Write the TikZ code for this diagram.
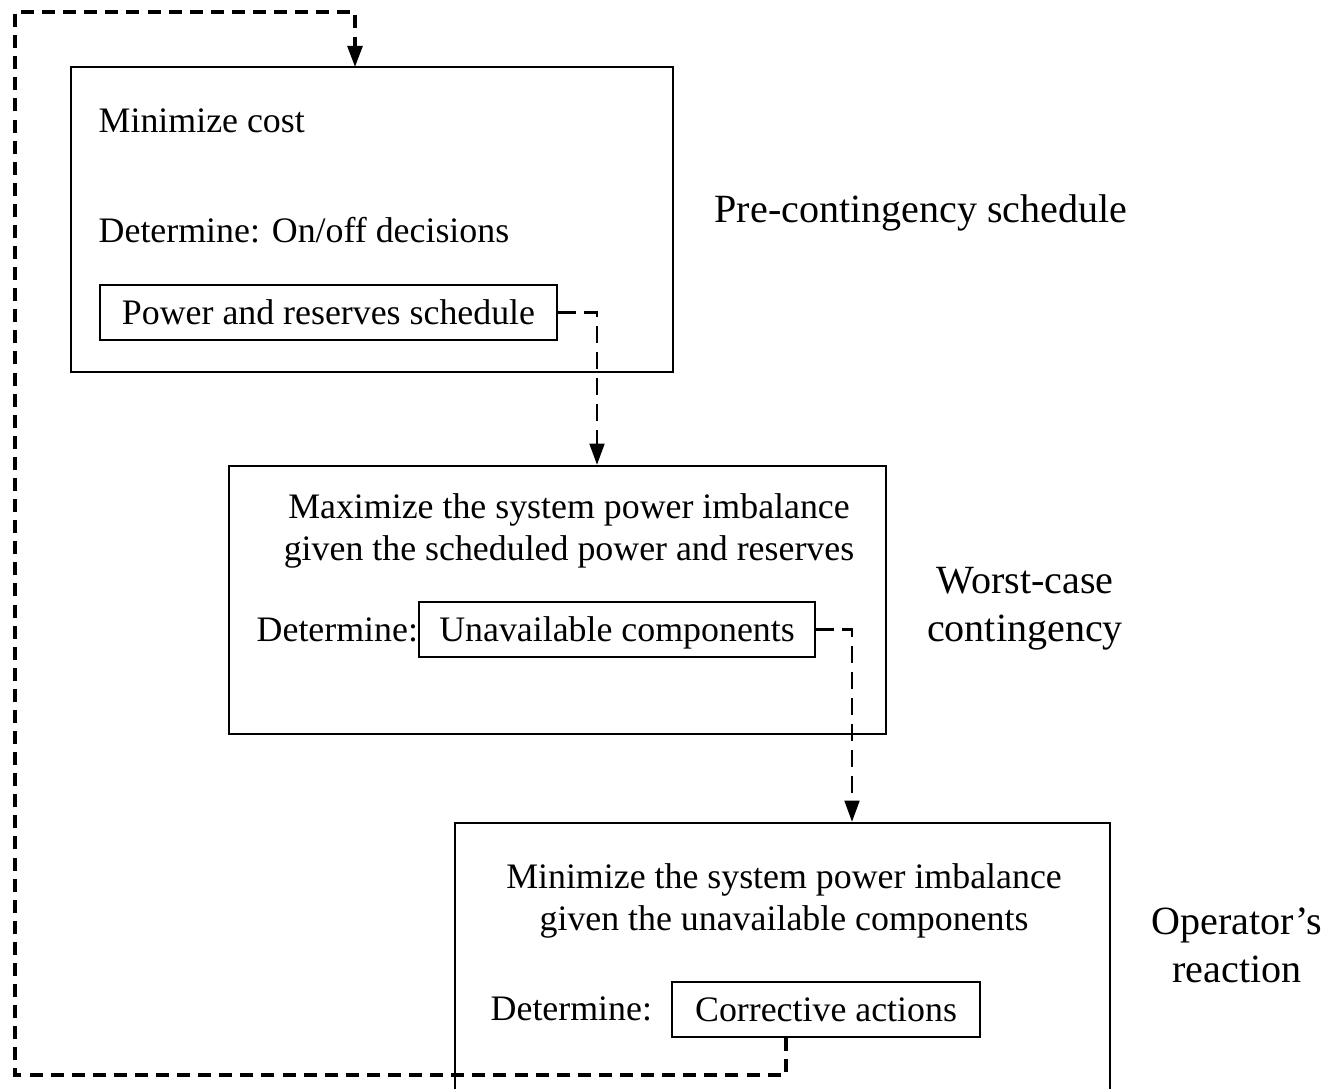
\documentclass[tikz,border=0pt]{standalone}
\usepackage{fontspec}
\setmainfont{Liberation Serif}
\usetikzlibrary{arrows.meta}
\begin{document}
\begin{tikzpicture}[
		stage/.style={draw, line width=0.7pt, minimum width=#1, inner sep=0pt},
		inbox/.style={draw, line width=0.7pt, minimum height=0.55cm, inner sep=0pt, text height=1.9ex, text depth=0.45ex, font=\fontsize{10.2}{12}\selectfont},
		txt/.style={inner sep=0pt, align=center, font=\fontsize{10.2}{12}\selectfont},
		lbl/.style={inner sep=0pt, align=center, font=\fontsize{11.4}{13.7}\selectfont},
		flow/.style={->, >={Triangle[length=6pt,width=4.2pt]}, line width=0.7pt, dash pattern=on 5pt off 2.4pt},
		feedback/.style={->, >={Triangle[length=6pt,width=4.2pt]}, line width=1pt, dash pattern=on 3.7pt off 2.3pt}
	]
	\useasboundingbox (0,0) rectangle (13.28,-10.88);

	% stages
	\node[stage=6.02cm, minimum height=3.05cm] (pre) at (3.72,-2.195) {};
	\node[stage=6.57cm, minimum height=2.68cm] (worst) at (5.575,-6.0) {};
	\node[stage=6.55cm, minimum height=2.77cm] (react) at (7.825,-9.615) {};

	% pre-contingency
	\node[txt, anchor=west] (mincost) at (0.98,-1.21) {Minimize cost};
	\node[txt, anchor=west] (onoff) at (0.98,-2.30) {Determine: On/off decisions};
	\node[inbox, minimum width=4.57cm] (sched) at (3.285,-3.125) {Power and reserves schedule};

	% worst case
	\node[txt] (maxim) at (5.69,-5.31) {Maximize the system power imbalance\\given the scheduled power and reserves};
	\node[txt, anchor=west] (det2) at (2.56,-6.30) {Determine:};
	\node[inbox, minimum width=3.96cm] (unavail) at (6.17,-6.295) {Unavailable components};

	% reaction
	\node[txt] (minim) at (7.84,-9.01) {Minimize the system power imbalance\\given the unavailable components};
	\node[txt, anchor=west] (det3) at (4.90,-10.09) {Determine:};
	\node[inbox, minimum width=3.08cm] (corr) at (8.26,-10.095) {Corrective actions};

	% side labels
	\node[lbl] (l1) at (9.21,-2.13) {Pre-contingency schedule};
	\node[lbl] (l2) at (10.25,-6.09) {Worst-case\\contingency};
	\node[lbl] (l3) at (12.37,-9.45) {Operator's\\reaction};

	% connectors
	\coordinate (k1) at (5.97,-3.125);
	\coordinate (k2) at (8.52,-6.295);
	\draw[flow] (sched.east) -- (k1) -- (k1 |- worst.north);
	\draw[flow] (unavail.east) -- (k2) -- (k2 |- react.north);

	\coordinate (fbs) at (7.86,-10.37);
	\coordinate (fbl) at (0.15,-10.75);
	\coordinate (fbt) at (0.15,-0.12);
	\coordinate (ftop) at (3.55,-0.67);
	\draw[feedback] (fbs |- corr.south) |- (fbl) -- (fbt) -| (ftop);
\end{tikzpicture}
\end{document}
